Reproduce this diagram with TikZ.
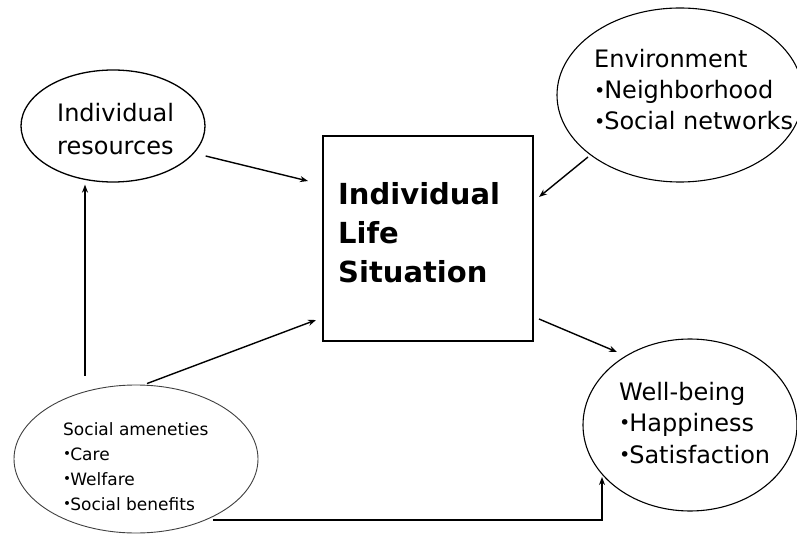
\documentclass[tikz,border=0pt]{standalone}
\usepackage{fontspec}
\setmainfont{DejaVu Sans}
\usetikzlibrary{shapes.geometric,arrows.meta}
% small list bullet
\newcommand{\smdot}{\makebox[0.42em][l]{\raisebox{0.08em}{\scalebox{0.8}{•}}}}
\begin{document}
\begin{tikzpicture}[x=1pt,y=-1pt,
  bubble/.style={draw,ellipse,inner sep=0pt,line width=1.3pt},
  lbl/.style={anchor=base west,inner sep=0pt,align=left},
  link/.style={line width=1.4pt,-{Stealth[length=8pt,width=6pt]}},
  mainbox/.style={draw,line width=2pt,inner sep=0pt,minimum width=210pt,minimum height=205pt}]
\useasboundingbox[fill=white] (0,0) rectangle (797,534);

% central box (text nodes are placed by the baseline of their last line)
\node[mainbox] (box) at (428,238.5) {};
\node[lbl,font=\fontsize{29}{39}\selectfont\bfseries] (boxtext) at (338,283)
  {Individual\\Life\\Situation};

% surrounding ellipses
\node[bubble,minimum width=184pt,minimum height=112pt] (res) at (113,126) {};
\node[lbl,font=\fontsize{24}{33}\selectfont] (restext) at (57,155)
  {Individual\\resources};

\node[bubble,line width=1.1pt,minimum width=246pt,minimum height=174pt] (env) at (680,95) {};
\node[lbl,font=\fontsize{24}{31}\selectfont] (envtext) at (594,130)
  {Environment\\\smdot Neighborhood\\\smdot Social networks};

\node[bubble,line width=0.9pt,draw=black!75,minimum width=244pt,minimum height=148pt] (soc) at (136,459) {};
\node[lbl,font=\fontsize{17}{25}\selectfont] (soctext) at (63,510)
  {Social ameneties\\\smdot Care\\\smdot Welfare\\\smdot Social benefits};

\node[bubble,line width=1.1pt,minimum width=214pt,minimum height=172pt] (wb) at (690,425) {};
\node[lbl,font=\fontsize{24}{31.5}\selectfont] (wbtext) at (619,463)
  {Well-being\\\smdot Happiness\\\smdot Satisfaction};

% connectors
\draw[link] ([shift={(0,30)}]res.east) -- ([shift={(-14,-57.5)}]box.west);
\draw[link] ([shift={(-92,62)}]env.center) -- ([shift={(5,-41.5)}]box.east);
\draw[link] ([shift={(11,-1)}]soc.north) -- ([shift={(-6,-22)}]box.south west);
\draw[link] ([shift={(-51,-9)}]soc.north) -- ([shift={(-28,2)}]res.south);
\draw[link] ([shift={(5,-23)}]box.south east) -- ([shift={(-73,-73)}]wb.center);
\draw[link,line width=1.2pt] ([shift={(77,61)}]soc.center) -| ([shift={(-88,52)}]wb.center);
\end{tikzpicture}
\end{document}
